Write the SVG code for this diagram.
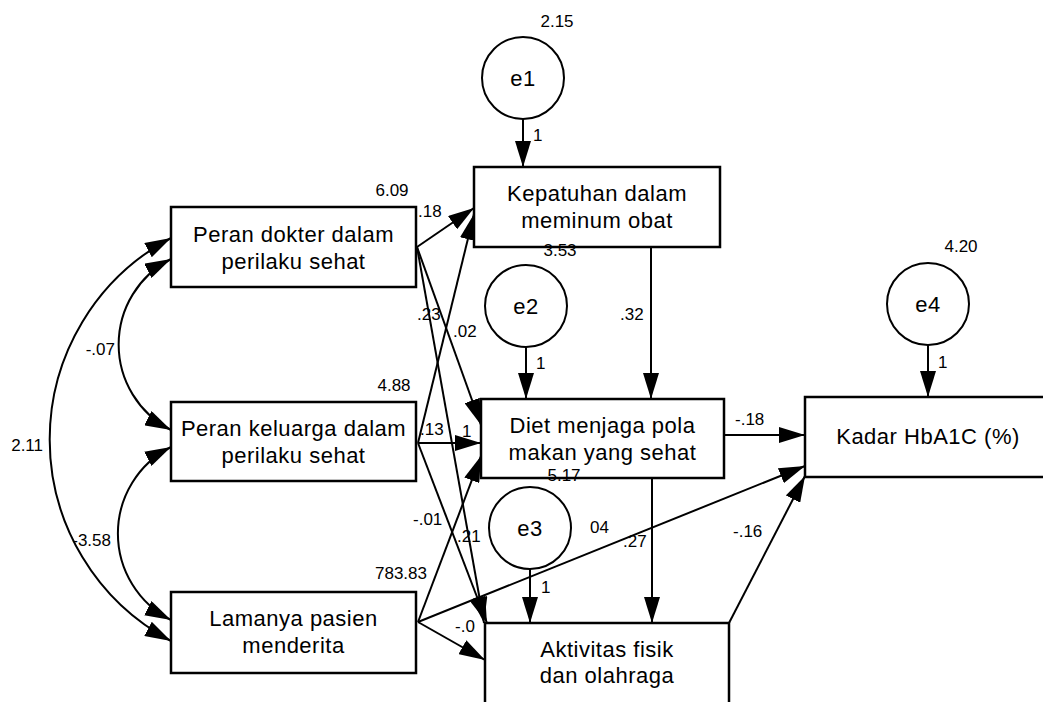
<svg xmlns="http://www.w3.org/2000/svg" width="1043" height="702" viewBox="0 0 1043 702">
<style>
.box{fill:#fff;stroke:#000;stroke-width:2.5}
.circ{fill:#fff;stroke:#000;stroke-width:2}
.ln{fill:none;stroke:#000;stroke-width:2}
.nt{font-family:"Liberation Sans",Arial,sans-serif;font-size:22px;letter-spacing:0.5px;text-anchor:middle;fill:#000}
.lb{font-family:"Liberation Sans",Arial,sans-serif;font-size:17px;fill:#000}
.mid{text-anchor:middle}
.end{text-anchor:end}
</style>
<defs>
<marker id="ah" markerUnits="userSpaceOnUse" markerWidth="26" markerHeight="16" refX="26" refY="8" orient="auto-start-reverse" viewBox="0 0 26 16">
<path d="M0,0 L26,8 L0,16 z" fill="#000"/>
</marker>
</defs>
<rect width="1043" height="702" fill="#fff"/>
<g id="connectors" class="ln" marker-end="url(#ah)">
<path d="M417,247 L474,208"/>
<path d="M417,247 L481,425"/>
<path d="M417,247 L484,623"/>
<path d="M418,443 L474,214"/>
<path d="M418,443 L481,443"/>
<path d="M418,443 L487,623"/>
<path d="M418,622 L481,456"/>
<path d="M418,622 L485,660"/>
<path d="M418,622 L805,466"/>
<path d="M651,247 L651,399"/>
<path d="M652,478 L652,623"/>
<path d="M724,435 L805,435"/>
<path d="M729,623 L805,476"/>
<path d="M523,119 L523,167"/>
<path d="M526,347 L526,399"/>
<path d="M530,569 L530,623"/>
<path d="M928,345 L928,397"/>
<path d="M171,238 A228,228 0 0 0 171,641" marker-start="url(#ah)"/>
<path d="M171,259 A96,96 0 0 0 171,430" marker-start="url(#ah)"/>
<path d="M171,447 A97,97 0 0 0 171,620" marker-start="url(#ah)"/>
</g>
<g id="dokter"><rect class="box" x="171" y="207" width="245" height="80"/><text class="nt" x="293.5" y="242">Peran dokter dalam</text><text class="nt" x="293.5" y="269">perilaku sehat</text></g>
<g id="keluarga"><rect class="box" x="171" y="402" width="245" height="79"/><text class="nt" x="293.5" y="436">Peran keluarga dalam</text><text class="nt" x="293.5" y="463">perilaku sehat</text></g>
<g id="lamanya"><rect class="box" x="171" y="592" width="245" height="81"/><text class="nt" x="293.5" y="626">Lamanya pasien</text><text class="nt" x="293.5" y="653">menderita</text></g>
<g id="kepatuhan"><rect class="box" x="474" y="167" width="246" height="80"/><text class="nt" x="597" y="201">Kepatuhan dalam</text><text class="nt" x="597" y="228">meminum obat</text></g>
<g id="diet"><rect class="box" x="481" y="399" width="243" height="79"/><text class="nt" x="602.5" y="433">Diet menjaga pola</text><text class="nt" x="602.5" y="460">makan yang sehat</text></g>
<g id="aktivitas"><rect class="box" x="485" y="623" width="244" height="82"/><text class="nt" x="607" y="657">Aktivitas fisik</text><text class="nt" x="607" y="683">dan olahraga</text></g>
<g id="kadar"><rect class="box" x="805" y="397" width="248" height="80"/><text class="nt" x="928" y="444">Kadar HbA1C (%)</text></g>
<g id="e1"><circle class="circ" cx="523" cy="78" r="41"/><text class="nt" x="523" y="86">e1</text></g>
<g id="e2"><circle class="circ" cx="526" cy="306" r="41"/><text class="nt" x="526" y="314">e2</text></g>
<g id="e3"><circle class="circ" cx="530" cy="528" r="41"/><text class="nt" x="530" y="536">e3</text></g>
<g id="e4"><circle class="circ" cx="928" cy="304" r="41"/><text class="nt" x="928" y="312">e4</text></g>
<g id="labels" class="lb">
<text x="557" y="27" class="mid">2.15</text>
<text x="961" y="252" class="mid">4.20</text>
<text x="392" y="196" class="mid">6.09</text>
<text x="394" y="391" class="mid">4.88</text>
<text x="401" y="579" class="mid">783.83</text>
<text x="560" y="256" class="mid">3.53</text>
<text x="564" y="481" class="mid">5.17</text>
<text x="533" y="141">1</text>
<text x="536" y="369">1</text>
<text x="541" y="593">1</text>
<text x="938" y="368">1</text>
<text x="43" y="451" class="end">2.11</text>
<text x="115" y="355" class="end">-.07</text>
<text x="111" y="546" class="end">-3.58</text>
<text x="418" y="217">.18</text>
<text x="417" y="320">.23</text>
<text x="453" y="337">.02</text>
<text x="420" y="435">.13</text>
<text x="462" y="437">1</text>
<text x="413" y="525">-.01</text>
<text x="457" y="542">.21</text>
<text x="455" y="632">-.0</text>
<text x="590" y="533">04</text>
<text x="623" y="547">.27</text>
<text x="733" y="537">-.16</text>
<text x="735" y="425">-.18</text>
<text x="620" y="320">.32</text>
</g>
</svg>
